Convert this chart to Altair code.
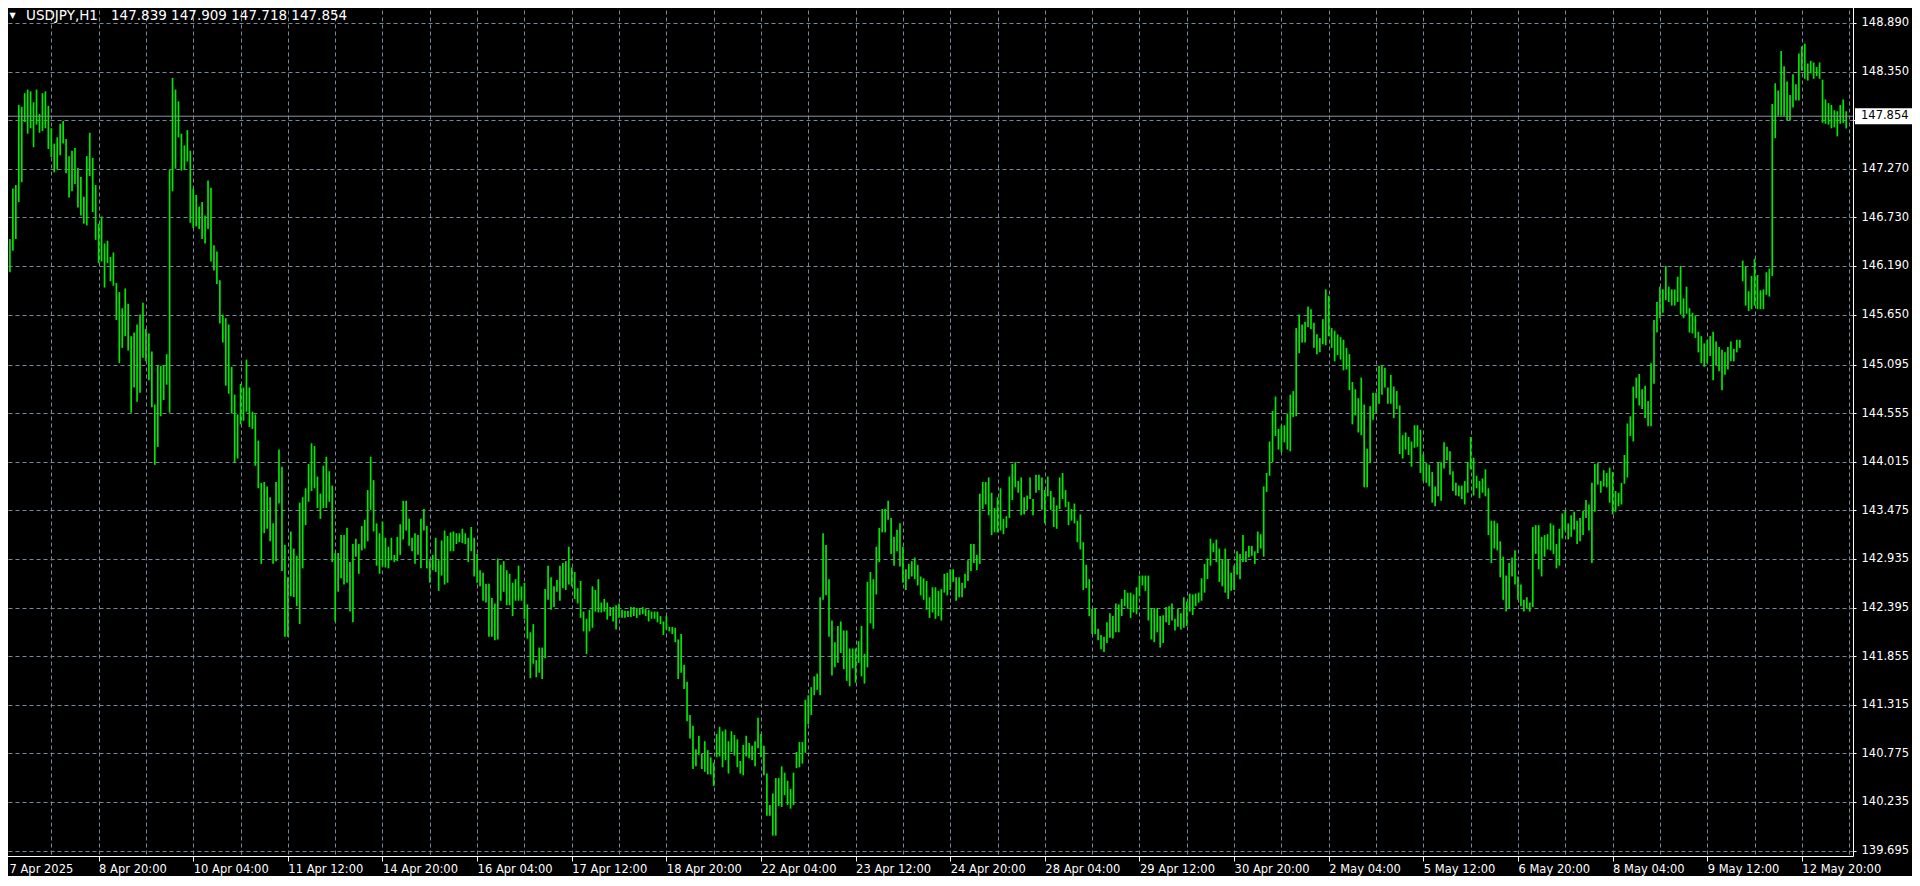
import json
import altair as alt
import pandas as pd

SYMBOL = "USDJPY,H1"
LAST_OHLC = [147.839, 147.909, 147.718, 147.854]
BID = 147.854

HIGH = [
    146.34, 146.62, 146.49, 147.05, 147.09, 147.98, 147.96, 148.11, 148.15, 148.13,
    148.01, 148.15, 147.88, 148.11, 148.13, 147.97, 147.72, 147.55, 147.62, 147.77,
    147.80, 147.60, 147.41, 147.47, 147.50, 147.28, 147.18, 146.96, 147.41, 147.67,
    147.39, 147.09, 146.66, 146.74, 146.44, 146.47, 146.29, 146.34, 146.00, 145.90,
    145.72, 145.94, 145.77, 145.41, 145.45, 145.54, 145.65, 145.78, 145.49, 145.44,
    145.24, 144.65, 145.08, 145.08, 145.09, 145.21, 147.26, 148.28, 148.15, 148.02,
    147.66, 147.53, 147.70, 147.47, 147.05, 146.98, 146.85, 146.90, 146.75, 147.14,
    147.06, 146.42, 146.35, 146.03, 145.65, 145.61, 145.54, 145.07, 144.76, 144.54,
    144.88, 144.84, 145.15, 144.84, 144.57, 144.54, 144.25, 143.78, 143.79, 143.74,
    143.62, 143.33, 143.79, 144.15, 143.96, 143.09, 142.73, 143.24, 143.05, 142.97,
    143.56, 143.62, 143.72, 143.99, 144.22, 144.19, 143.85, 143.66, 143.97, 144.07,
    143.91, 143.75, 143.00, 143.00, 143.20, 143.20, 143.28, 142.90, 143.10, 143.16,
    143.10, 143.30, 143.37, 143.70, 144.07, 143.81, 143.33, 143.22, 143.35, 143.17,
    143.07, 143.17, 142.98, 143.18, 143.32, 143.58, 143.58, 143.38, 143.17, 143.22,
    143.20, 143.38, 143.49, 143.30, 142.92, 142.98, 143.17, 142.92, 143.14, 143.25,
    143.19, 143.23, 143.24, 143.22, 143.22, 143.27, 143.22, 143.17, 143.29, 143.17,
    142.99, 142.81, 142.78, 142.66, 142.66, 142.50, 142.44, 142.94, 142.87, 142.91,
    142.81, 142.77, 142.67, 142.71, 142.86, 142.63, 142.67, 142.43, 142.12, 142.21,
    141.81, 141.95, 141.95, 142.60, 142.86, 142.73, 142.63, 142.70, 142.86, 142.89,
    142.91, 143.07, 142.84, 142.79, 142.61, 142.69, 142.35, 142.27, 142.37, 142.63,
    142.59, 142.71, 142.45, 142.49, 142.45, 142.40, 142.40, 142.42, 142.44, 142.37,
    142.36, 142.36, 142.40, 142.40, 142.39, 142.38, 142.40, 142.38, 142.37, 142.35,
    142.35, 142.35, 142.30, 142.24, 142.30, 142.18, 142.18, 142.17, 142.04, 142.10,
    141.76, 141.57, 141.20, 141.08, 140.82, 140.97, 140.77, 140.91, 140.81, 140.73,
    140.67, 140.99, 141.07, 141.02, 141.04, 140.91, 141.02, 140.98, 140.93, 140.69,
    140.87, 140.97, 140.89, 140.86, 140.91, 141.17, 140.99, 140.86, 140.55, 140.20,
    140.33, 140.50, 140.50, 140.63, 140.56, 140.47, 140.38, 140.56, 140.79, 140.90,
    140.90, 141.37, 141.42, 141.51, 141.63, 141.66, 142.51, 143.22, 143.09, 142.71,
    142.25, 142.01, 142.19, 142.24, 142.14, 142.14, 141.94, 141.94, 141.94, 142.02,
    142.19, 141.88, 142.68, 142.79, 142.71, 143.07, 143.28, 143.49, 143.49, 143.58,
    143.39, 143.18, 143.26, 143.33, 143.07, 142.82, 142.88, 142.91, 142.95, 142.87,
    142.74, 142.72, 142.69, 142.51, 142.62, 142.62, 142.58, 142.60, 142.77, 142.78,
    142.82, 142.82, 142.73, 142.73, 142.67, 142.77, 142.92, 143.10, 143.10, 142.98,
    143.66, 143.79, 143.79, 143.84, 143.67, 143.50, 143.62, 143.72, 143.38, 143.41,
    143.85, 143.99, 144.01, 143.80, 143.84, 143.62, 143.64, 143.84, 143.60, 143.87,
    143.87, 143.84, 143.70, 143.85, 143.69, 143.62, 143.53, 143.84, 143.89, 143.70,
    143.57, 143.49, 143.55, 143.36, 143.43, 143.12, 142.87, 142.71, 142.38, 142.38,
    142.16, 142.09, 142.07, 142.23, 142.33, 142.30, 142.44, 142.43, 142.49, 142.59,
    142.56, 142.56, 142.54, 142.62, 142.75, 142.75, 142.75, 142.75, 142.38, 142.39,
    142.38, 142.30, 142.31, 142.40, 142.41, 142.44, 142.27, 142.38, 142.33, 142.51,
    142.46, 142.55, 142.54, 142.55, 142.56, 142.72, 142.88, 142.94, 143.16, 143.11,
    143.15, 143.05, 142.93, 143.05, 142.93, 142.78, 142.86, 143.02, 142.99, 143.20,
    143.02, 143.08, 143.08, 143.02, 143.24, 143.21, 143.74, 143.89, 144.24, 144.58,
    144.74, 144.38, 144.42, 144.42, 144.55, 144.76, 144.80, 145.50, 145.65, 145.54,
    145.57, 145.74, 145.71, 145.56, 145.43, 145.39, 145.60, 145.93, 145.86, 145.50,
    145.47, 145.43, 145.40, 145.37, 145.28, 145.21, 144.90, 144.82, 144.72, 144.95,
    144.65, 144.16, 144.63, 144.78, 144.78, 145.08, 145.08, 145.06, 144.84, 144.98,
    144.85, 144.80, 144.64, 144.31, 144.34, 144.29, 144.24, 144.42, 144.42, 144.37,
    144.10, 144.00, 143.98, 143.90, 143.74, 144.01, 144.01, 144.23, 144.18, 144.13,
    143.91, 143.78, 143.75, 143.75, 143.80, 144.01, 144.29, 144.06, 143.86, 143.80,
    143.83, 143.93, 143.72, 143.36, 143.36, 143.33, 143.13, 142.96, 142.75, 142.89,
    142.95, 143.03, 142.74, 142.65, 142.48, 142.51, 142.45, 143.29, 143.31, 143.31,
    143.18, 143.20, 143.21, 143.33, 143.31, 143.10, 143.27, 143.44, 143.47, 143.33,
    143.42, 143.46, 143.36, 143.39, 143.47, 143.59, 143.54, 143.78, 143.99, 144.00,
    143.80, 143.92, 143.89, 143.95, 143.90, 143.69, 143.67, 143.78, 144.09, 144.44,
    144.52, 144.85, 144.95, 144.99, 144.82, 144.86, 144.69, 145.11, 145.59, 145.79,
    145.96, 145.93, 146.19, 145.96, 145.93, 145.93, 146.07, 146.19, 145.83, 145.96,
    145.72, 145.67, 145.64, 145.46, 145.41, 145.33, 145.37, 145.41, 145.46, 145.35,
    145.29, 145.26, 145.23, 145.29, 145.35, 145.27, 145.37, 145.37, 146.25, 146.18,
    145.91, 146.08, 146.27, 146.09, 145.92, 145.93, 146.12, 146.16, 147.99, 148.22,
    148.14, 148.58, 148.41, 148.24, 148.09, 148.32, 148.21, 148.55, 148.63, 148.66,
    148.44, 148.47, 148.45, 148.40, 148.45, 148.26, 148.04, 148.00, 147.98, 147.92,
    147.91, 147.98, 148.04, 147.909,
]

LOW = [
    145.81, 146.00, 146.12, 146.36, 146.49, 146.90, 147.12, 147.79, 147.66, 147.72,
    147.51, 147.76, 147.67, 147.69, 147.72, 147.49, 147.40, 147.23, 147.26, 147.42,
    147.55, 147.22, 146.95, 147.02, 147.10, 146.84, 146.75, 146.66, 146.64, 147.19,
    146.79, 146.48, 146.22, 146.24, 145.95, 146.22, 146.02, 145.97, 145.59, 145.11,
    145.28, 145.41, 145.25, 144.56, 144.84, 144.68, 144.78, 145.17, 145.13, 144.92,
    144.62, 143.98, 144.18, 144.52, 144.70, 144.87, 144.56, 147.02, 147.27, 147.62,
    147.25, 147.26, 147.35, 146.67, 146.61, 146.63, 146.60, 146.49, 146.44, 146.60,
    146.24, 146.14, 145.99, 145.55, 145.34, 144.86, 144.77, 144.55, 144.01, 144.05,
    144.43, 144.47, 144.57, 144.40, 144.38, 143.97, 143.72, 142.88, 143.22, 143.27,
    143.13, 142.88, 142.91, 143.55, 142.80, 142.07, 142.07, 142.52, 142.51, 142.41,
    142.21, 142.83, 143.31, 143.57, 143.69, 143.72, 143.50, 143.38, 143.50, 143.50,
    143.57, 142.90, 142.24, 142.57, 142.72, 142.65, 142.67, 142.35, 142.23, 142.96,
    142.77, 143.03, 143.05, 143.13, 143.48, 143.24, 142.86, 142.77, 142.85, 142.84,
    142.83, 142.92, 142.90, 142.91, 142.98, 143.15, 143.25, 143.08, 143.02, 142.88,
    142.98, 142.83, 143.25, 142.83, 142.67, 142.81, 142.79, 142.58, 142.75, 142.65,
    142.67, 143.02, 143.02, 143.10, 143.12, 143.11, 143.10, 142.90, 143.02, 142.74,
    142.67, 142.63, 142.47, 142.45, 142.07, 142.07, 142.03, 142.04, 142.47, 142.57,
    142.42, 142.42, 142.30, 142.47, 142.47, 142.47, 142.27, 142.05, 141.61, 141.77,
    141.62, 141.67, 141.60, 141.83, 142.48, 142.37, 142.40, 142.57, 142.47, 142.61,
    142.59, 142.65, 142.63, 142.49, 142.44, 142.28, 142.13, 141.88, 142.13, 142.17,
    142.35, 142.34, 142.34, 142.35, 142.26, 142.30, 142.24, 142.15, 142.28, 142.28,
    142.28, 142.29, 142.29, 142.30, 142.28, 142.31, 142.32, 142.30, 142.24, 142.27,
    142.27, 142.23, 142.21, 142.09, 142.15, 142.13, 142.10, 142.01, 141.60, 141.67,
    141.49, 141.13, 140.94, 140.60, 140.63, 140.76, 140.60, 140.57, 140.54, 140.54,
    140.41, 140.73, 140.74, 140.62, 140.70, 140.55, 140.79, 140.75, 140.62, 140.55,
    140.53, 140.74, 140.72, 140.70, 140.63, 140.83, 140.73, 140.53, 140.08, 140.08,
    139.86, 139.86, 140.19, 140.18, 140.31, 140.20, 140.16, 140.20, 140.61, 140.62,
    140.66, 140.78, 141.10, 141.20, 141.42, 141.48, 141.42, 142.48, 142.53, 142.07,
    141.64, 141.73, 141.78, 141.89, 141.71, 141.58, 141.52, 141.72, 141.56, 141.78,
    141.63, 141.55, 141.73, 142.22, 142.16, 142.54, 142.90, 143.23, 143.23, 143.37,
    142.99, 142.86, 143.02, 142.85, 142.67, 142.59, 142.71, 142.74, 142.71, 142.64,
    142.53, 142.48, 142.37, 142.28, 142.34, 142.27, 142.30, 142.25, 142.56, 142.53,
    142.59, 142.68, 142.47, 142.51, 142.51, 142.61, 142.69, 142.80, 142.89, 142.81,
    142.88, 143.49, 143.54, 143.42, 143.20, 143.23, 143.23, 143.25, 143.21, 143.28,
    143.39, 143.59, 143.73, 143.67, 143.42, 143.43, 143.48, 143.60, 143.42, 143.67,
    143.70, 143.48, 143.33, 143.63, 143.48, 143.29, 143.27, 143.49, 143.60, 143.51,
    143.31, 143.36, 143.33, 143.12, 143.04, 142.59, 142.61, 142.30, 142.10, 142.10,
    142.03, 141.93, 141.90, 142.00, 142.06, 142.05, 142.12, 142.12, 142.30, 142.41,
    142.38, 142.28, 142.34, 142.32, 142.52, 142.64, 142.58, 142.25, 142.04, 142.01,
    142.12, 141.95, 142.00, 142.23, 142.20, 142.25, 142.14, 142.18, 142.15, 142.17,
    142.19, 142.35, 142.31, 142.41, 142.45, 142.47, 142.56, 142.71, 142.86, 143.01,
    142.90, 142.68, 142.63, 142.56, 142.49, 142.58, 142.59, 142.76, 142.71, 142.90,
    142.90, 142.95, 142.97, 142.88, 143.00, 143.05, 142.96, 143.68, 143.86, 144.01,
    144.30, 144.15, 144.12, 144.23, 144.15, 144.13, 144.51, 144.52, 145.22, 145.34,
    145.34, 145.51, 145.49, 145.28, 145.21, 145.23, 145.32, 145.31, 145.41, 145.28,
    145.13, 145.20, 145.15, 145.03, 145.04, 144.81, 144.43, 144.53, 144.34, 144.31,
    143.73, 143.73, 144.00, 144.48, 144.56, 144.66, 144.76, 144.84, 144.66, 144.66,
    144.50, 144.60, 144.10, 144.05, 144.15, 144.09, 143.96, 144.17, 144.18, 143.89,
    143.80, 143.78, 143.74, 143.56, 143.52, 143.63, 143.58, 143.94, 144.03, 143.87,
    143.69, 143.64, 143.63, 143.60, 143.54, 143.67, 143.93, 143.64, 143.72, 143.61,
    143.67, 143.63, 143.20, 142.89, 143.05, 143.03, 142.73, 142.48, 142.35, 142.39,
    142.74, 142.65, 142.48, 142.41, 142.35, 142.38, 142.35, 142.40, 142.99, 142.82,
    142.74, 142.96, 143.04, 143.03, 142.99, 142.83, 142.86, 143.16, 143.25, 143.15,
    143.18, 143.26, 143.10, 143.13, 143.20, 143.39, 143.25, 142.89, 143.46, 143.76,
    143.67, 143.74, 143.73, 143.56, 143.43, 143.46, 143.52, 143.54, 143.77, 143.84,
    144.30, 144.24, 144.72, 144.64, 144.60, 144.50, 144.41, 144.41, 144.88, 145.45,
    145.61, 145.67, 145.81, 145.79, 145.75, 145.75, 145.79, 145.65, 145.61, 145.66,
    145.45, 145.44, 145.39, 145.23, 145.11, 145.07, 145.11, 145.19, 144.92, 145.08,
    145.02, 144.81, 144.98, 145.04, 145.13, 145.13, 145.23, 145.28, 146.02, 145.75,
    145.69, 145.71, 145.75, 145.71, 145.71, 145.71, 145.87, 145.85, 146.08, 147.61,
    147.86, 147.86, 147.86, 147.81, 147.81, 147.95, 148.03, 148.03, 148.36, 148.27,
    148.25, 148.33, 148.27, 148.30, 148.27, 147.78, 147.77, 147.76, 147.72, 147.73,
    147.63, 147.77, 147.78, 147.718,
]

DATE_LABELS = [
    "7 Apr 2025", "8 Apr 20:00", "10 Apr 04:00", "11 Apr 12:00", "14 Apr 20:00",
    "16 Apr 04:00", "17 Apr 12:00", "18 Apr 20:00", "22 Apr 04:00", "23 Apr 12:00",
    "24 Apr 20:00", "28 Apr 04:00", "29 Apr 12:00", "30 Apr 20:00", "2 May 04:00",
    "5 May 12:00", "6 May 20:00", "8 May 04:00", "9 May 12:00", "12 May 20:00",
]

PRICE_TICKS = [
    148.890, 148.350, 147.810, 147.270, 146.730, 146.190, 145.650, 145.095, 144.555,
    144.015, 143.475, 142.935, 142.395, 141.855, 141.315, 140.775, 140.235, 139.695,
]

BARS_PER_LABEL = 32
BARS_PER_GRID = 16

n = min(len(HIGH), len(LOW))
bars = pd.DataFrame({"bar": list(range(n)), "high": HIGH[:n], "low": LOW[:n]})

W, H = 1850, 853
FONT = "DejaVu Sans"
FS = 11.5
TITLE_FS = 13.5
GRID = "#778899"
BAR_COLOR = "#00e600"

x_scale = alt.Scale(domain=[-0.338, 625.3], nice=False, zero=False)
y_scale = alt.Scale(domain=[139.634, 149.112], nice=False, zero=False)

labels_js = json.dumps(DATE_LABELS)
x_axis = alt.Axis(
    values=list(range(0, 625, BARS_PER_GRID)),
    grid=True, gridColor=GRID, gridDash=[4, 3], gridWidth=1, gridOpacity=1,
    domain=False,
    ticks=True, tickColor="white", tickSize=5, tickWidth=1,
    tickOpacity={"condition": {"test": f"datum.value % {BARS_PER_LABEL} === 0", "value": 1}, "value": 0},
    labelExpr=f"datum.value % {BARS_PER_LABEL} === 0 ? {labels_js}[datum.value / {BARS_PER_LABEL}] : ''",
    labelOffset={"condition": {"test": "datum.value === 0", "value": 5}, "value": 0},
    labelAlign="left", labelBaseline="middle", labelPadding=8,
    labelColor="white", labelFont=FONT, labelFontSize=FS,
    labelOverlap=False, labelFlush=False, labelBound=False,
    title=None,
)
y_axis = alt.Axis(
    orient="right", values=PRICE_TICKS, format=".3f",
    grid=True, gridColor=GRID, gridDash=[4, 3], gridWidth=1, gridOpacity=1,
    domain=False, ticks=True, tickColor="white", tickSize=3, tickWidth=1,
    labelPadding=5, labelColor="white", labelFont=FONT, labelFontSize=FS,
    labelBaseline="middle", labelOverlap=False, labelFlush=False, labelBound=False,
    title=None,
)

bar_layer = alt.Chart(bars).mark_rule(color=BAR_COLOR, strokeWidth=1.7).encode(
    x=alt.X("bar:Q", scale=x_scale, axis=x_axis),
    y=alt.Y("low:Q", scale=y_scale, axis=y_axis),
    y2="high:Q",
)

bid_df = pd.DataFrame({"low": [BID], "label": [f"{BID:.3f}"]})
bid_line = alt.Chart(bid_df).mark_rule(color="#8a949e", strokeWidth=1).encode(
    y=alt.Y("low:Q", scale=y_scale, axis=y_axis),
    x=alt.value(0), x2=alt.value(W),
)
bid_box = alt.Chart(bid_df).mark_rect(color="white", yOffset=-8, y2Offset=8).encode(
    y=alt.Y("low:Q", scale=y_scale, axis=y_axis),
    y2="low:Q",
    x=alt.value(W + 2), x2=alt.value(W + 70),
)
bid_text = alt.Chart(bid_df).mark_text(
    align="left", baseline="middle", color="black", font=FONT, fontSize=FS
).encode(
    y=alt.Y("low:Q", scale=y_scale, axis=y_axis),
    x=alt.value(W + 8),
    text="label:N",
)

title_df = pd.DataFrame({
    "mark": ["\u25bc"],
    "symbol": [SYMBOL],
    "ohlc": [" ".join(f"{v:.3f}" for v in LAST_OHLC)],
})
tri = alt.Chart(title_df).mark_text(
    align="center", baseline="middle", color="white", font=FONT, fontSize=8
).encode(x=alt.value(9.5), y=alt.value(12.5), text="mark:N")
sym_mark = alt.Chart(title_df).mark_text(
    align="left", baseline="middle", color="white", font=FONT, fontSize=TITLE_FS
).encode(x=alt.value(23), y=alt.value(12.5), text="symbol:N")
ohlc_mark = alt.Chart(title_df).mark_text(
    align="left", baseline="middle", color="white", font=FONT, fontSize=TITLE_FS
).encode(x=alt.value(108), y=alt.value(12.5), text="ohlc:N")

chart = alt.layer(bar_layer, bid_line, bid_box, bid_text, tri, sym_mark, ohlc_mark).properties(
    width=W, height=H, background="black",
    padding={"left": -5, "top": -5, "right": 59, "bottom": 20},
    autosize=alt.AutoSizeParams(type="none"),
).configure_view(fill="black", stroke="white", strokeWidth=1)

chart.save("out.html", embed_options={"renderer": "svg", "actions": False})
